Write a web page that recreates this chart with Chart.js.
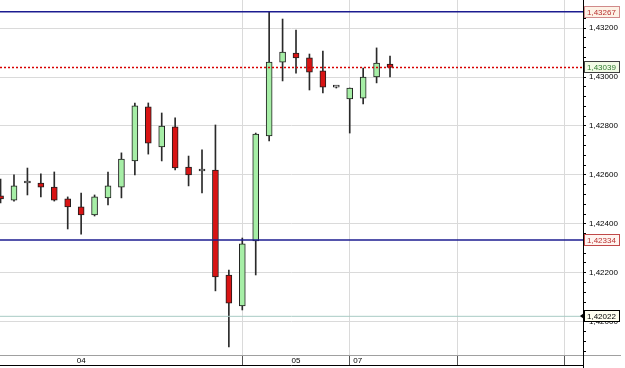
<!DOCTYPE html>
<html>
<head>
<meta charset="utf-8">
<script src="https://cdn.jsdelivr.net/npm/chart.js@4"></script>
<style>
  html, body { margin: 0; padding: 0; background: #fff; }
  #wrap { width: 625px; height: 368px; }
</style>
</head>
<body>
<div id="wrap"><canvas id="chart" width="625" height="368"></canvas></div>
<script>
// bougies (open / high / low / close), une par créneau
const opens  = [1.42514, 1.42497, 1.42567, 1.42567, 1.42550, 1.42502, 1.42469, 1.42436, 1.42506, 1.42550,
                1.42657, 1.42878, 1.42714, 1.42796, 1.42632, 1.42616, 1.42620, 1.42191, 1.42064, 1.42330,
                1.42759, 1.43061, 1.43098, 1.43078, 1.43025, 1.42959, 1.42910, 1.42914, 1.43000, 1.43053];
const highs  = [1.42583, 1.42600, 1.42628, 1.42604, 1.42612, 1.42510, 1.42526, 1.42518, 1.42612, 1.42690,
                1.42894, 1.42894, 1.42853, 1.42833, 1.42677, 1.42702, 1.42804, 1.42211, 1.42342, 1.42771,
                1.43267, 1.43237, 1.43192, 1.43094, 1.43106, 1.42963, 1.42955, 1.43037, 1.43119, 1.43086];
const lows   = [1.42485, 1.42493, 1.42518, 1.42510, 1.42493, 1.42379, 1.42358, 1.42432, 1.42477, 1.42506,
                1.42600, 1.42685, 1.42657, 1.42620, 1.42555, 1.42526, 1.42126, 1.41897, 1.42048, 1.42191,
                1.42739, 1.42984, 1.43016, 1.42947, 1.42935, 1.42955, 1.42771, 1.42890, 1.42976, 1.43000];
const closes = [1.42502, 1.42555, 1.42567, 1.42550, 1.42497, 1.42469, 1.42436, 1.42510, 1.42555, 1.42665,
                1.42882, 1.42730, 1.42800, 1.42628, 1.42600, 1.42616, 1.42183, 1.42076, 1.42318, 1.42767,
                1.43061, 1.43102, 1.43078, 1.43020, 1.42959, 1.42959, 1.42955, 1.43000, 1.43057, 1.43039];

// niveaux horizontaux (résistance, dernier cours, support, bas)
const levelValues = [1.43267, 1.43039, 1.42334, 1.42022];

// axe des temps
const daySeparators = [18, 26, 34, 42];
const dayLabels = ['04', '05', '07'];
const dayLabelPos = [6, 22, 26.6];

// axe des prix
const yMin = 1.418639, yMax = 1.433148;
const xMin = -0.042, xMax = 43.37;
const minorStep = 0.0004, majorStep = 0.002;

const fmt = v => v.toFixed(5).replace('.', ',');
const isMajor = v => Math.abs(v / majorStep - Math.round(v / majorStep)) < 1e-6;

const idx = opens.map((_, i) => i);
const wickData = idx.map(i => ({ x: i, y: [lows[i], highs[i]] }));
const bodyData = idx.map(i => ({ x: i, y: [opens[i], closes[i]] }));
const bodyColors = idx.map(i =>
    closes[i] > opens[i] ? '#a6eea6' : closes[i] < opens[i] ? '#d81414' : '#ffffff');

const levelLine = (v, color, width, dash) => ({
    type: 'line',
    data: [{ x: xMin, y: v }, { x: xMax, y: v }],
    borderColor: color,
    borderWidth: width,
    borderDash: dash,
    pointRadius: 0,
    order: 0
});

// étiquettes de prix sur l'axe + lignes de bordure
const tagsPlugin = {
    id: 'tags',
    afterDraw(chart) {
        const { ctx, chartArea } = chart;
        const ys = chart.scales.y;
        ctx.save();
        // prolongements des axes
        ctx.strokeStyle = '#a0a0a0';
        ctx.lineWidth = 1;
        ctx.beginPath();
        ctx.moveTo(chartArea.right, chartArea.bottom + 0.5);
        ctx.lineTo(621, chartArea.bottom + 0.5);
        ctx.stroke();
        ctx.strokeStyle = '#000';
        ctx.beginPath();
        ctx.moveTo(0, 365.5);
        ctx.lineTo(chartArea.right, 365.5);
        ctx.moveTo(chartArea.right + 0.5, chartArea.bottom);
        ctx.lineTo(chartArea.right + 0.5, 368);
        ctx.stroke();

        // jours
        const xs = chart.scales.x;
        ctx.font = '8px "Liberation Sans", Arial, sans-serif';
        ctx.fillStyle = '#000';
        ctx.textAlign = 'center';
        ctx.textBaseline = 'middle';
        dayLabels.forEach((t, i) => ctx.fillText(t, xs.getPixelForValue(dayLabelPos[i]), 360.5));

        const styles = [
            { text: '#b83030', border: '#d08a8a', bg: '#fdf2e6' },
            { text: '#2c7a2c', border: '#404040', bg: '#f2fbe6' },
            { text: '#b83030', border: '#c04848', bg: '#fff4f0' },
            { text: '#000000', border: '#000000', bg: '#fffff0' }
        ];
        ctx.textAlign = 'left';
        levelValues.forEach((v, i) => {
            const y = Math.round(ys.getPixelForValue(v));
            const s = styles[i];
            const x0 = chartArea.right + 1;
            ctx.fillStyle = s.bg;
            ctx.fillRect(x0, y - 6, 36, 12);
            ctx.strokeStyle = s.border;
            ctx.strokeRect(x0 + 0.5, y - 5.5, 35, 11);
            ctx.fillStyle = s.text;
            ctx.fillText(fmt(v), x0 + 3, y + 0.5);
            if (i === 3) {
                ctx.fillStyle = '#000';
                ctx.beginPath();
                ctx.moveTo(chartArea.right - 3, y);
                ctx.lineTo(chartArea.right + 1, y - 3);
                ctx.lineTo(chartArea.right + 1, y + 3);
                ctx.fill();
            }
        });
        ctx.restore();
    }
};

new Chart(document.getElementById('chart').getContext('2d'), {
    type: 'bar',
    data: {
        datasets: [
            {
                data: wickData,
                backgroundColor: '#2a2a2a',
                barThickness: 1,
                grouped: false,
                order: 3
            },
            {
                data: bodyData,
                backgroundColor: bodyColors,
                borderColor: '#1e1e1e',
                borderWidth: 1,
                borderSkipped: false,
                barThickness: 6,
                minBarLength: 2,
                grouped: false,
                order: 2
            },
            levelLine(levelValues[0], '#1c1c90', 1.6, []),
            levelLine(levelValues[1], '#d80000', 1.4, [2, 2]),
            levelLine(levelValues[2], '#1c1c90', 1.6, []),
            levelLine(levelValues[3], '#a9cbc4', 1, [])
        ]
    },
    options: {
        responsive: false,
        animation: false,
        layout: { padding: 0 },
        plugins: {
            legend: { display: false },
            tooltip: { enabled: false }
        },
        scales: {
            x: {
                type: 'linear',
                min: xMin,
                max: xMax,
                offset: false,
                afterBuildTicks: s => { s.ticks = daySeparators.map(v => ({ value: v })); },
                afterFit: s => { s.height = 13; s.paddingLeft = 0; s.paddingRight = 0; },
                ticks: { display: false },
                grid: {
                    offset: false,
                    color: '#dadada',
                    tickColor: '#555',
                    tickLength: 10
                },
                border: { color: '#a0a0a0' }
            },
            y: {
                position: 'right',
                min: yMin,
                max: yMax,
                afterBuildTicks: s => {
                    const t = [];
                    for (let k = Math.ceil(yMin / minorStep); k * minorStep <= yMax; k++) {
                        t.push({ value: +(k * minorStep).toFixed(5) });
                    }
                    s.ticks = t;
                },
                afterFit: s => { s.width = 42; s.paddingTop = 0; s.paddingBottom = 0; },
                ticks: {
                    autoSkip: false,
                    padding: 3,
                    color: '#000',
                    font: { size: 8, family: '"Liberation Sans", Arial, sans-serif' },
                    callback: v => isMajor(v) ? fmt(v) : ''
                },
                grid: {
                    color: c => isMajor(c.tick.value) ? '#dadada' : 'rgba(0,0,0,0)',
                    tickColor: '#000',
                    tickLength: 3
                },
                border: { color: '#000' }
            }
        }
    },
    plugins: [tagsPlugin]
});
</script>
</body>
</html>
